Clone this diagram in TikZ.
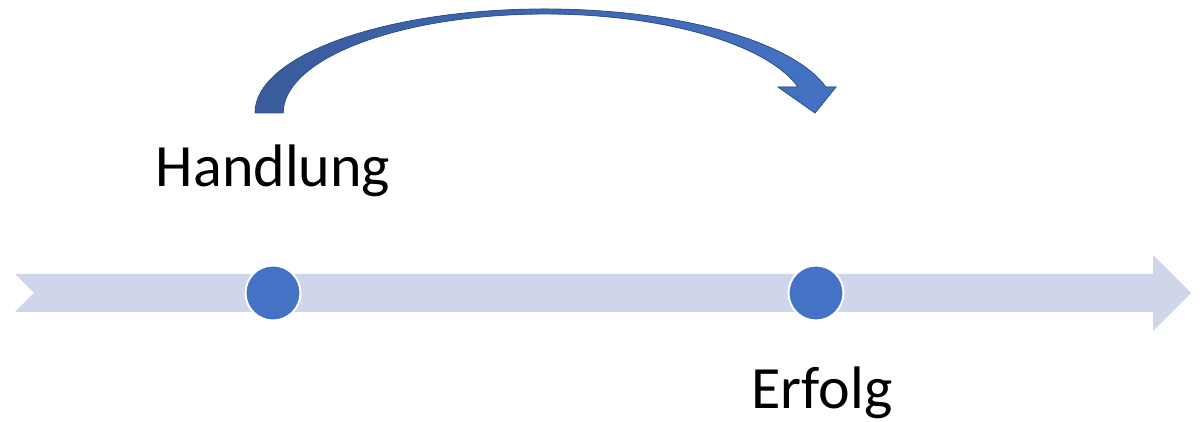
\documentclass[tikz,border=0pt]{standalone}
\usepackage{fontspec}
\setmainfont{Carlito}
\usetikzlibrary{shapes,calc}
\definecolor{zeitstrahl}{HTML}{CFD5EA}
\definecolor{punktblau}{HTML}{4472C4}
\definecolor{bogendunkel}{HTML}{3A5C9C}
\definecolor{bogenrand}{HTML}{2F528F}

\begin{document}
\begin{tikzpicture}[x=1pt,y=1pt,
            event/.style={circle,fill=punktblau,draw=white,line width=2pt,minimum size=55pt,inner sep=0pt},
            beschriftung/.style={anchor=base,font=\fontsize{60}{66}\selectfont,inner sep=0pt}]
            \useasboundingbox (0,0) rectangle (1203,422);
            % Zeitstrahl
            \fill[zeitstrahl] (15,148) -- (1153,148) -- (1153,167) -- (1191,129)
                      -- (1153,91) -- (1153,110) -- (15,110) -- (34,129) -- cycle;
            \draw (273,129) node[event] (handlung) {};
            \draw (816,129) node[event] (erfolg) {};
            \draw (273,235) node[beschriftung] (handlungtext) {Handlung};
            \draw (822,13) node[beschriftung] (erfolgtext) {Erfolg};
            % gebogener Pfeil
            \coordinate (start) at (255,309);
            \coordinate (spitze) at (815,309);
            \filldraw[draw=bogenrand,line width=0.8pt,left color=bogendunkel,right color=punktblau]
                      (start) arc[start angle=180,end angle=14.48,x radius=290,y radius=104]
                      -- (836,335) -- (spitze) -- (778,335) -- (798,335)
                      arc[start angle=15.23,end angle=180,x radius=262,y radius=99] -- cycle;
        \end{tikzpicture}
\end{document}
